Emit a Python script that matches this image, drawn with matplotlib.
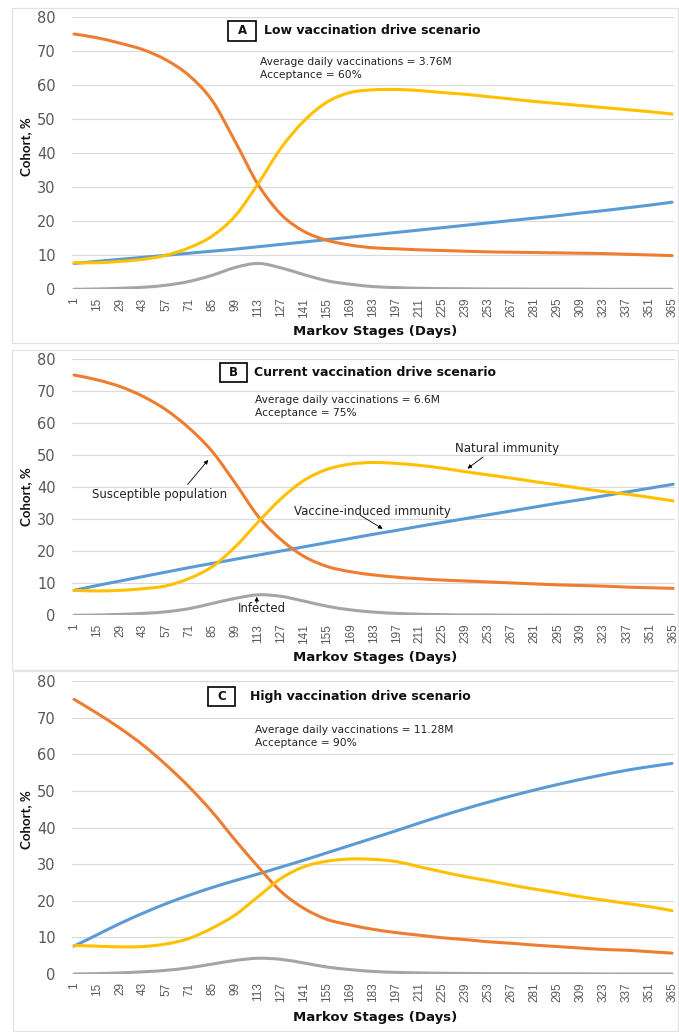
import matplotlib
matplotlib.use("Agg")
import matplotlib.pyplot as plt
from matplotlib.patches import Rectangle, PathPatch
from matplotlib.path import Path

# Markov stage (day) at each labelled category
days = list(range(1, 366, 14))
day_labels = [str(d) for d in days]

# Scenario A: low vaccination drive
A_susceptible = [75.0, 73.9, 72.3, 70.4, 67.4, 62.8, 55.5, 43.5, 30.8, 22.0, 17.0, 14.4, 13.0,
                 12.2, 11.9, 11.6, 11.4, 11.2, 11.0, 10.9, 10.8, 10.7, 10.6, 10.5, 10.3, 10.1, 9.9]
A_natural = [7.8, 7.8, 8.2, 8.8, 10.0, 12.2, 15.6, 21.5, 31.0, 41.5, 49.5, 55.0, 57.8,
             58.6, 58.7, 58.4, 57.8, 57.3, 56.6, 55.9, 55.2, 54.6, 54.0, 53.4, 52.8, 52.2, 51.5]
A_vaccine = [7.6, 8.2, 8.8, 9.4, 10.0, 10.6, 11.2, 11.8, 12.5, 13.2, 13.9, 14.6, 15.3,
             16.0, 16.7, 17.4, 18.1, 18.8, 19.5, 20.2, 20.9, 21.6, 22.4, 23.1, 23.9, 24.7, 25.6]
A_infected = [0.0, 0.1, 0.3, 0.6, 1.2, 2.3, 4.1, 6.4, 7.6, 6.3, 4.3, 2.5, 1.5,
              0.8, 0.5, 0.3, 0.2, 0.15, 0.1, 0.1, 0.05, 0.05, 0.05, 0.0, 0.0, 0.0, 0.0]

# Scenario B: current vaccination drive
B_susceptible = [75.0, 73.5, 71.4, 68.3, 64.1, 58.4, 51.1, 41.2, 30.8, 23.5, 18.3, 15.2, 13.6,
                 12.6, 11.9, 11.4, 11.0, 10.7, 10.4, 10.1, 9.8, 9.5, 9.3, 9.1, 8.8, 8.6, 8.4]
B_natural = [7.8, 7.6, 7.8, 8.3, 9.2, 11.5, 15.2, 21.4, 29.2, 36.5, 42.2, 45.6, 47.2,
             47.7, 47.4, 46.8, 45.9, 44.8, 43.8, 42.8, 41.7, 40.7, 39.6, 38.6, 37.8, 36.8, 35.7]
B_vaccine = [7.8, 9.3, 10.7, 12.1, 13.5, 14.9, 16.2, 17.5, 18.8, 20.1, 21.4, 22.7, 24.0,
             25.3, 26.5, 27.8, 29.0, 30.2, 31.4, 32.6, 33.8, 35.0, 36.1, 37.3, 38.5, 39.7, 40.9]
B_infected = [0.0, 0.1, 0.3, 0.6, 1.1, 2.1, 3.7, 5.3, 6.4, 5.9, 4.4, 2.8, 1.7,
              1.0, 0.6, 0.35, 0.2, 0.1, 0.1, 0.05, 0.05, 0.05, 0.0, 0.0, 0.0, 0.0, 0.0]

# Scenario C: high vaccination drive
C_susceptible = [75.0, 71.2, 67.1, 62.5, 57.1, 51.1, 44.3, 36.6, 29.3, 22.5, 17.9, 14.9, 13.4,
                 12.2, 11.3, 10.6, 9.9, 9.4, 8.8, 8.4, 7.9, 7.5, 7.1, 6.7, 6.5, 6.1, 5.7]
C_natural = [7.8, 7.6, 7.4, 7.5, 8.2, 9.7, 12.5, 16.1, 21.1, 26.1, 29.3, 30.8, 31.4,
             31.3, 30.7, 29.3, 27.9, 26.6, 25.5, 24.3, 23.2, 22.2, 21.1, 20.2, 19.3, 18.4, 17.3]
C_vaccine = [7.6, 10.7, 13.8, 16.6, 19.2, 21.5, 23.6, 25.5, 27.3, 29.2, 31.1, 33.1, 35.1,
             37.1, 39.1, 41.2, 43.2, 45.1, 46.9, 48.6, 50.2, 51.7, 53.1, 54.4, 55.6, 56.6, 57.5]
C_infected = [0.0, 0.1, 0.3, 0.6, 1.0, 1.7, 2.7, 3.7, 4.3, 4.0, 3.0, 1.9, 1.2,
              0.7, 0.45, 0.3, 0.2, 0.15, 0.1, 0.1, 0.05, 0.05, 0.05, 0.0, 0.0, 0.0, 0.0]

panel_letters = ["A", "B", "C"]
panel_titles = ["Low vaccination drive scenario",
                "Current vaccination drive scenario",
                "High vaccination drive scenario"]
daily_vaccinations = ["3.76M", "6.6M", "11.28M"]
acceptance = ["60%", "75%", "90%"]

C_BLUE = "#5B9BD5"
C_ORANGE = "#ED7D31"
C_GRAY = "#A5A5A5"
C_YELLOW = "#FFC000"
GRID = "#D9D9D9"
TICK = "#595959"

W, H = 679, 1032
fig = plt.figure(figsize=(W / 100, H / 100), dpi=100)
fig.patch.set_facecolor("white")


def fx(x):
    return x / W


def fy(y):
    return 1 - y / H


def add_axes_px(left, top, right, bottom):
    return fig.add_axes([fx(left), fy(bottom), (right - left) / W, (bottom - top) / H])


def smooth_line(ax, x, y, color):
    """Smoothed line through the points (Catmull-Rom as cubic Bezier segments)."""
    n = len(x)
    verts = [(x[0], y[0])]
    codes = [Path.MOVETO]
    for i in range(n - 1):
        a = i - 1 if i > 0 else i
        d = i + 2 if i + 2 < n else i + 1
        c1 = (x[i] + (x[i + 1] - x[a]) / 6, y[i] + (y[i + 1] - y[a]) / 6)
        c2 = (x[i + 1] - (x[d] - x[i]) / 6, y[i + 1] - (y[d] - y[i]) / 6)
        verts += [c1, c2, (x[i + 1], y[i + 1])]
        codes += [Path.CURVE4] * 3
    patch = PathPatch(Path(verts, codes), fill=False, edgecolor=color, linewidth=2.2,
                      capstyle="round", joinstyle="round", zorder=3)
    ax.add_patch(patch)


# panel frames (left, top, right, bottom in pixels)
frames = [(12, 8, 678, 343), (12, 350, 678, 670), (13, 671, 678, 1031)]
for l, t, r, b in frames:
    fig.patches.append(Rectangle((fx(l), fy(b)), (r - l) / W, (b - t) / H,
                                 transform=fig.transFigure, fill=False,
                                 edgecolor="#E3E3E3", linewidth=0.9))

# axes boxes: left, top (y=80), right, bottom (y=0)
axes_px = [(72.4, 17, 673.7, 289.3), (72.4, 359, 674.8, 615.3), (72.4, 681, 673.7, 974)]
series = [
    (A_vaccine, A_susceptible, A_infected, A_natural),
    (B_vaccine, B_susceptible, B_infected, B_natural),
    (C_vaccine, C_susceptible, C_infected, C_natural),
]
# letter boxes (left, top, right, bottom) and title / note anchors in pixels
letter_box = [(228, 21, 256, 41), (220, 363, 247, 382), (208, 687, 235, 706)]
title_x = [264, 254, 250]
note_xy = [(260, 62), (255, 400), (255, 730)]
ylabel_y = [147, 497, 820]
xlabel_y = [331, 657, 1018]

axes = []
for i, (l, t, r, b) in enumerate(axes_px):
    ax = add_axes_px(l, t, r, b)
    axes.append(ax)
    vac, sus, inf, nat = series[i]
    for vals, col in ((vac, C_BLUE), (sus, C_ORANGE), (inf, C_GRAY), (nat, C_YELLOW)):
        smooth_line(ax, days, vals, col)
    ax.set_xlim(0, 366)
    ax.set_ylim(0, 80)
    ax.set_yticks(range(0, 81, 10))
    ax.set_xticks(days)
    ax.set_xticklabels(day_labels, rotation=90, family="Liberation Sans",
                       fontsize=8.5, color=TICK)
    ax.tick_params(axis="y", labelsize=10.5, labelcolor=TICK, length=0, pad=12)
    ax.tick_params(axis="x", length=0, pad=6)
    for lab in ax.get_yticklabels():
        lab.set_family("DejaVu Sans")
    ax.grid(axis="y", color=GRID, linewidth=0.8, zorder=0)
    for s in ax.spines.values():
        s.set_visible(False)
    ax.set_facecolor("none")

    bl, bt, br, bb = letter_box[i]
    fig.patches.append(Rectangle((fx(bl), fy(bb)), (br - bl) / W, (bb - bt) / H,
                                 transform=fig.transFigure, facecolor="white",
                                 edgecolor="black", linewidth=1.2))
    cy = (bt + bb) / 2
    fig.text(fx((bl + br) / 2), fy(cy), panel_letters[i], ha="center", va="center",
             fontsize=8.5, fontweight="bold", family="DejaVu Sans", color="#111111")
    fig.text(fx(title_x[i]), fy(cy), panel_titles[i], ha="left", va="center",
             fontsize=9, fontweight="bold", family="DejaVu Sans", color="#111111")
    nx, ny = note_xy[i]
    fig.text(fx(nx), fy(ny), "Average daily vaccinations = " + daily_vaccinations[i],
             ha="left", va="center", fontsize=7.7, family="DejaVu Sans", color="#222222")
    fig.text(fx(nx), fy(ny + 13.5), "Acceptance = " + acceptance[i],
             ha="left", va="center", fontsize=7.7, family="DejaVu Sans", color="#222222")
    fig.text(fx(26), fy(ylabel_y[i]), "Cohort, %", rotation=90, ha="center", va="center",
             fontsize=9.5, fontweight="bold", family="Lato", color="#111111")
    fig.text(fx(375), fy(xlabel_y[i]), "Markov Stages (Days)", ha="center", va="center",
             fontsize=9.5, fontweight="bold", family="DejaVu Sans", color="#111111")

# curve labels in the current-drive panel
axB = axes[1]
arrow = dict(arrowstyle="-|>", color="black", lw=0.6, mutation_scale=6, shrinkA=0, shrinkB=0)
label_kw = dict(fontsize=8.5, family="DejaVu Sans", color="#222222", ha="center", va="center")
axB.text(53, 37.8, "Susceptible population", **label_kw)
axB.annotate("", xy=(82.5, 48.5), xytext=(70, 40.8), arrowprops=arrow)
axB.text(115, 2.0, "Infected", zorder=5, **label_kw)
axB.annotate("", xy=(112, 5.8), xytext=(112, 3.8), arrowprops=arrow)
axB.text(182, 32.3, "Vaccine-induced immunity", **label_kw)
axB.annotate("", xy=(188.5, 27.0), xytext=(175, 31.2), arrowprops=arrow)
axB.text(264, 52.2, "Natural immunity", **label_kw)
axB.annotate("", xy=(240, 45.8), xytext=(249.5, 49.4), arrowprops=arrow)

fig.savefig("out.png", dpi=100, facecolor="white")
